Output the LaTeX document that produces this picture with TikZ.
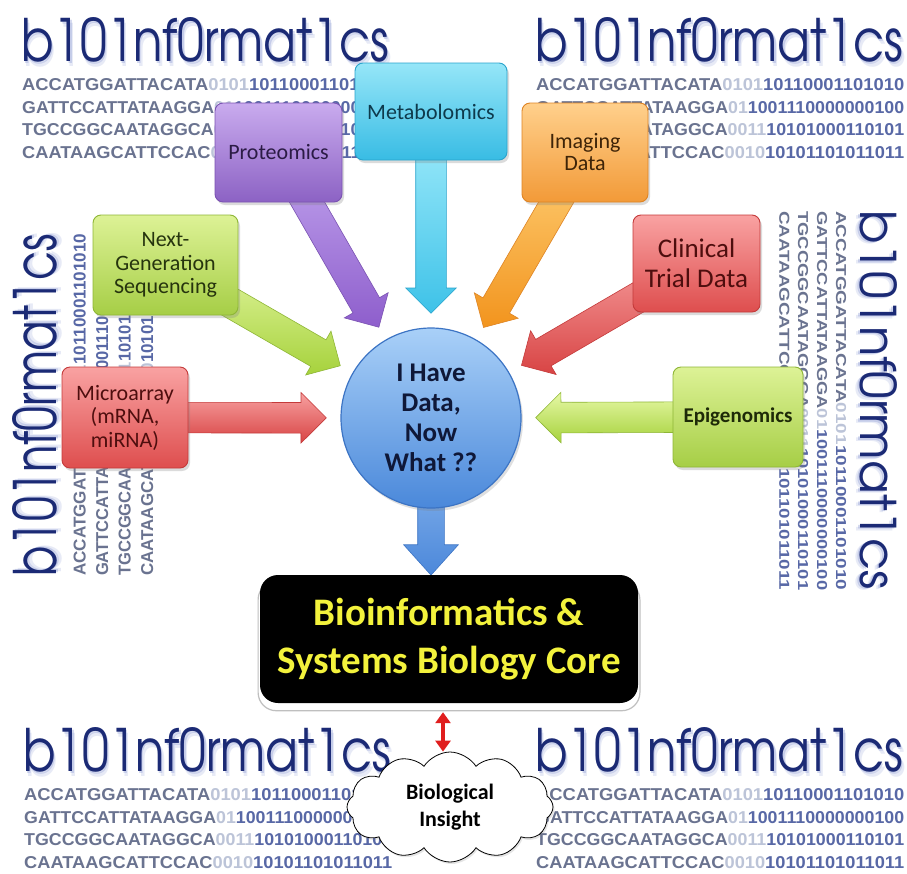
\documentclass[tikz,border=0pt]{standalone}
\usepackage{fontspec}
\usepackage{graphicx}
\usetikzlibrary{calc,shapes.arrows,shapes.symbols,shadows,arrows.meta}
\newfontfamily\labelfont{Carlito}
\newfontfamily\logofont{texgyreadventor-regular.otf}
\newfontfamily\dnafont{Liberation Sans}

% palette
\definecolor{logoink}{HTML}{1B2A75}
\definecolor{logoglow}{HTML}{7F8FD0}
\definecolor{dnaA}{HTML}{6A7390}
\definecolor{dnaM}{HTML}{BCC4D8}
\definecolor{dnaB}{HTML}{5868A6}
\definecolor{protT}{HTML}{C9ABEE}\definecolor{protB}{HTML}{8C62C4}\definecolor{protD}{HTML}{7A52B2}\definecolor{protTxt}{HTML}{2B1B45}
\definecolor{metaT}{HTML}{96E6F8}\definecolor{metaB}{HTML}{38BCE4}\definecolor{metaD}{HTML}{2AA4CC}\definecolor{metaTxt}{HTML}{0E3A4C}
\definecolor{imgT}{HTML}{FFD08C}\definecolor{imgB}{HTML}{F29A38}\definecolor{imgD}{HTML}{DE8424}\definecolor{imgTxt}{HTML}{3E2408}
\definecolor{ngsT}{HTML}{DDF296}\definecolor{ngsB}{HTML}{A6CE46}\definecolor{ngsD}{HTML}{8EB636}\definecolor{ngsTxt}{HTML}{26340E}
\definecolor{redT}{HTML}{F9A2A2}\definecolor{redB}{HTML}{DE4E4E}\definecolor{redD}{HTML}{C43A3A}\definecolor{redTxt}{HTML}{4E0E0E}
\definecolor{epiTxt}{HTML}{1E2A08}
\definecolor{hubT}{HTML}{A9D0F8}\definecolor{hubB}{HTML}{4A88DA}\definecolor{hubD}{HTML}{3C74C4}\definecolor{hubTxt}{HTML}{0F1838}
\definecolor{coreTxt}{HTML}{F3F23C}
\definecolor{linkred}{HTML}{E01E1E}
% arrow shades
\definecolor{aPurL}{HTML}{C4A8F0}\definecolor{aPurD}{HTML}{8E5ECC}
\definecolor{aCyaL}{HTML}{A6EEFC}\definecolor{aCyaD}{HTML}{3EC2E8}
\definecolor{aOraL}{HTML}{FFD27A}\definecolor{aOraD}{HTML}{F2941E}
\definecolor{aGreL}{HTML}{E6F8A6}\definecolor{aGreD}{HTML}{A6D23C}
\definecolor{aRedL}{HTML}{F7A0A0}\definecolor{aRedD}{HTML}{D84444}
\definecolor{aBluL}{HTML}{9CC4F4}\definecolor{aBluD}{HTML}{4C88DA}

\pgfdeclarelayer{paper}
\pgfdeclarelayer{logos}
\pgfdeclarelayer{arrows}
\pgfsetlayers{paper,logos,arrows,main}

% the "b101nf0rmat1cs" banner with its four sequence rows
\newcommand\logomark{\resizebox{368pt}{44pt}{\logofont b101nf0rmat1cs}}
\newcommand\dnarow[3]{\resizebox{368pt}{12pt}{\dnafont\bfseries\textcolor{dnaA}{#1}\textcolor{dnaM}{#2}\textcolor{dnaB}{#3}}}
\newcommand\bioblock[2]{%
  \begin{scope}[#2, every node/.append style={transform shape, inner sep=0pt, anchor=south west}]
    \node[text=logoglow, opacity=0.18] (#1glowb) at (2.5,49) {\logomark};
    \node[text=logoglow, opacity=0.32] (#1glowa) at (1.2,46.5) {\logomark};
    \node[text=logoink] (#1logo) at (0,44) {\logomark};
    \node (#1r1) at (1,73) {\dnarow{ACCATGGATTACATA}{0101}{10110001101010}};
    \node (#1r2) at (1,95.5) {\dnarow{GATTCCATTATAAGGA}{01}{1001110000000100}};
    \node (#1r3) at (1,118) {\dnarow{TGCCGGCAATAGGCA}{0011}{10101000110101}};
    \node (#1r4) at (1,140.5) {\dnarow{CAATAAGCATTCCAC}{0010}{10101101011011}};
  \end{scope}}

% block arrow from a tail point to a tip point
\newcommand\blockarrow[4]{%
  \path let \p1=(#2), \p2=(#3), \n1={atan2(\y2-\y1,\x2-\x1)}, \n2={veclen(\x2-\x1,\y2-\y1)} in
    node[#4, anchor=tail, rotate=\n1, minimum height=\n2] (#1) at (\p1) {};}

\tikzset{
  databox/.style={rectangle, rounded corners=8pt, line width=0.9pt, align=center, inner sep=3pt,
    font=\labelfont\fontsize{22}{23.5}\selectfont,
    drop shadow={opacity=0.28, shadow xshift=2pt, shadow yshift=-3pt}},
  purplebox/.style={databox, top color=protT, bottom color=protB, draw=protD, text=protTxt},
  cyanbox/.style={databox, top color=metaT, bottom color=metaB, draw=metaD, text=metaTxt},
  orangebox/.style={databox, top color=imgT, bottom color=imgB, draw=imgD, text=imgTxt},
  greenbox/.style={databox, top color=ngsT, bottom color=ngsB, draw=ngsD, text=ngsTxt},
  redbox/.style={databox, top color=redT, bottom color=redB, draw=redD, text=redTxt},
  feedarrow/.style={single arrow, inner sep=0pt, inner ysep=15pt, minimum width=50pt,
    single arrow head extend=10pt, single arrow tip angle=90, line width=0.6pt},
  hubstyle/.style={circle, minimum size=180pt, inner sep=0pt, top color=hubT, bottom color=hubB,
    draw=hubD, line width=1.2pt, align=center, text=hubTxt,
    font=\labelfont\bfseries\fontsize{27}{30}\selectfont,
    drop shadow={opacity=0.25, shadow xshift=2pt, shadow yshift=-3pt}},
  corebox/.style={rectangle, rounded corners=18pt, fill=black, minimum width=378pt, minimum height=128pt,
    align=center, text=coreTxt, font=\labelfont\bfseries\fontsize{39}{48}\selectfont,
    drop shadow={fill=white, draw=black!25, line width=1.2pt, opacity=1, shadow xshift=0pt,
      shadow yshift=-7pt, shadow scale=1.01}},
  cloudstyle/.style={cloud, cloud puffs=12, cloud puff arc=115, aspect=1.85, draw=black, fill=white, line width=0.8pt,
    minimum width=206pt, minimum height=110pt, align=center,
    font=\labelfont\bfseries\fontsize{22}{27}\selectfont,
    drop shadow={opacity=0.2, shadow xshift=1.5pt, shadow yshift=-2pt}},
  insightlink/.style={draw=linkred, line width=4pt,
    arrows={Triangle[width=15pt,length=11pt]-Triangle[width=15pt,length=11pt]}},
}

\begin{document}
\begin{tikzpicture}[x=1pt, y=-1pt]
  \useasboundingbox (0,0) rectangle (907,873);
  \begin{pgfonlayer}{paper}
    \fill[white] (0,0) rectangle (907,873);
  \end{pgfonlayer}

  % sequence banners behind everything
  \begin{pgfonlayer}{logos}
    \bioblock{tl}{shift={(21,18)}}
    \bioblock{tr}{shift={(535,18)}}
    \bioblock{bl}{shift={(23,728)}}
    \bioblock{br}{shift={(535,728)}}
    \bioblock{lf}{shift={(13,577)}, rotate=90, xscale=0.93}
    \bioblock{rt}{shift={(897,210)}, rotate=-90, xscale=1.03, yscale=0.84}
  \end{pgfonlayer}

  % data sources
  \node[purplebox, minimum width=127pt, minimum height=99pt] (prot) at (278.5,152.5) {Proteomics};
  \node[cyanbox, minimum width=152pt, minimum height=97pt] (meta) at (431,111.5) {Metabolomics};
  \node[orangebox, minimum width=126pt, minimum height=99pt, font=\labelfont\fontsize{22}{22}\selectfont] (img) at (585,152.5) {Imaging\\Data};
  \node[greenbox, minimum width=145pt, minimum height=100pt] (ngs) at (165.5,265) {Next-\\Generation\\Sequencing};
  \node[redbox, minimum width=127pt, minimum height=97pt, font=\labelfont\fontsize{27}{30}\selectfont] (clin) at (696.5,263.5) {Clinical\\Trial Data};
  \node[redbox, minimum width=126pt, minimum height=101pt] (micro) at (125,417.5) {Microarray\\(mRNA,\\miRNA)};
  \node[greenbox, minimum width=130pt, minimum height=100pt, text=epiTxt, font=\labelfont\bfseries\fontsize{21}{24}\selectfont] (epi) at (738,417) {Epigenomics};

  % central question
  \node[hubstyle] (hub) at (431,418) {I Have\\Data,\\Now\\What ??};

  % core facility
  \node[corebox] (core) at (449,639) {Bioinformatics \&\\Systems Biology Core};

  % outcome
  \node[cloudstyle] (insight) at (450,807) {Biological\\Insight};
  \draw[insightlink] ($(insight.north |- core.south)+(-7,9)$) -- ($(insight.north)+(-7,0)$);

  % block arrows feeding the hub
  \begin{pgfonlayer}{arrows}
    \blockarrow{protfeed}{prot}{$(hub)!105pt!(prot)$}{feedarrow, top color=aPurL, bottom color=aPurD, draw=protD}
    \blockarrow{metafeed}{meta}{$(hub)!105pt!(meta)$}{feedarrow, top color=aCyaL, bottom color=aCyaD, draw=metaD}
    \blockarrow{imgfeed}{img}{$(hub)!105pt!(img)$}{feedarrow, top color=aOraL, bottom color=aOraD, draw=imgD}
    \blockarrow{ngsfeed}{ngs}{$(hub)!105pt!(ngs)$}{feedarrow, top color=aGreL, bottom color=aGreD, draw=ngsD}
    \blockarrow{clinfeed}{clin}{$(hub)!105pt!(clin)$}{feedarrow, top color=aRedL, bottom color=aRedD, draw=redD}
    \blockarrow{microfeed}{micro}{$(hub)!105pt!(micro)$}{feedarrow, top color=aRedL, bottom color=aRedD, draw=redD}
    \blockarrow{epifeed}{epi}{$(hub)!105pt!(epi)$}{feedarrow, top color=aGreL, bottom color=aGreD, draw=ngsD}
    \blockarrow{corefeed}{hub}{hub |- core.north}{feedarrow, inner ysep=13pt, minimum width=54pt,
      single arrow head extend=14pt, single arrow tip angle=84, top color=aBluL, bottom color=aBluD, draw=hubD}
  \end{pgfonlayer}
\end{tikzpicture}
\end{document}
